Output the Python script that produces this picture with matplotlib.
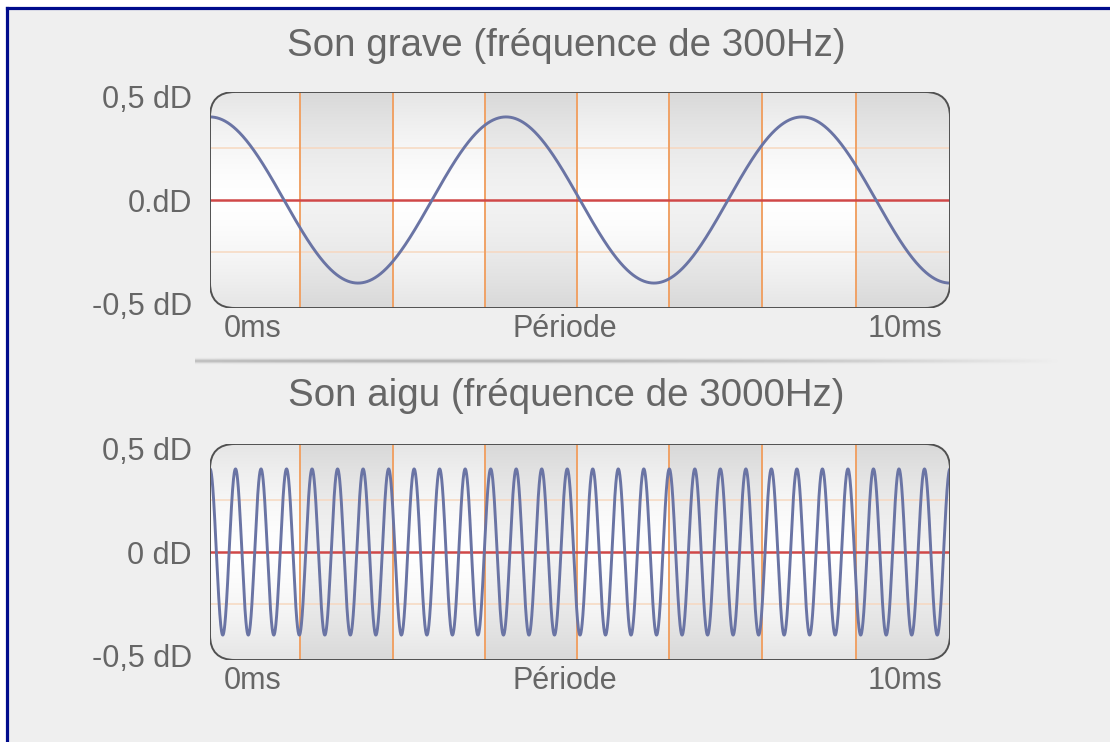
import numpy as np
import matplotlib.pyplot as plt
from matplotlib.patches import FancyBboxPatch, Rectangle
from matplotlib.lines import Line2D

# ---- chart data ----
x_range_ms = [0, 10]
y_range_dD = [-0.52, 0.52]
amplitude_dD = 0.4
cycles_grave = 2.5      # cycles visible in the 0-10 ms window (top)
cycles_aigu = 29        # cycles visible in the 0-10 ms window (bottom)
grid_x_ms = [1.22, 2.47, 3.72, 4.96, 6.2, 7.46, 8.73]
grid_y_dD = [-0.25, 0.25]
shaded_cols_ms = [(1.22, 2.47), (3.72, 4.96), (6.2, 7.46), (8.73, 10.0)]
ytick_vals = [-0.5, 0, 0.5]
ylabels_grave = ['-0,5 dD', '0.dD', '0,5 dD']
ylabels_aigu = ['-0,5 dD', '0 dD', '0,5 dD']
xtick_vals = [0.57, 4.8, 9.39]
xtick_labels = ['0ms', 'Période', '10ms']
title_grave = 'Son grave (fréquence de 300Hz)'
title_aigu = 'Son aigu (fréquence de 3000Hz)'

W, H = 1110, 742
TXT = '#666666'
plt.rcParams['font.family'] = ['Liberation Sans', 'DejaVu Sans']

fig = plt.figure(figsize=(W / 100, H / 100), dpi=100)
fig.patch.set_facecolor('white')

# page background + navy border (left and top)
fig.add_artist(Rectangle((6 / W, 0), 1, 1 - 8 / H, transform=fig.transFigure,
                         facecolor='#efefef', edgecolor='none', zorder=0))
fig.add_artist(Line2D([6.5 / W, 6.5 / W], [0, 1 - 7.5 / H], transform=fig.transFigure,
                      color='#000c8c', lw=2.3, zorder=1))
fig.add_artist(Line2D([6.5 / W, 1], [1 - 7.5 / H, 1 - 7.5 / H], transform=fig.transFigure,
                      color='#000c8c', lw=2.3, zorder=1))


def px_rect(left, top, right, bottom):
    return [left / W, 1 - bottom / H, (right - left) / W, (bottom - top) / H]


def draw_panel(rect_px, cycles, ylabels, title, title_y):
    ax = fig.add_axes(px_rect(*rect_px))
    ax.set_xlim(x_range_ms)
    ax.set_ylim(y_range_dD)
    ax.patch.set_visible(False)
    for s in ax.spines.values():
        s.set_visible(False)

    w_px = rect_px[2] - rect_px[0]
    h_px = rect_px[3] - rect_px[1]
    xspan = x_range_ms[1] - x_range_ms[0]
    yspan = y_range_dD[1] - y_range_dD[0]
    aspect = (yspan / h_px) / (xspan / w_px)
    box = FancyBboxPatch((x_range_ms[0], y_range_dD[0]), xspan, yspan,
                         boxstyle='round,pad=0,rounding_size=%f' % (25 * xspan / w_px),
                         mutation_aspect=aspect, facecolor='none',
                         edgecolor='#505050', lw=1.4, zorder=10)
    ax.add_patch(box)

    # shaded background columns with vertical gradient
    nx, ny = 740, 216
    xs = np.linspace(x_range_ms[0], x_range_ms[1], nx)
    ys = np.linspace(y_range_dD[0], y_range_dD[1], ny)
    v = np.abs(ys) / y_range_dD[1]
    base = np.ones(nx)
    for a, b in shaded_cols_ms:
        base[(xs >= a) & (xs < b)] = 0.95
    img = base[None, :] - 0.10 * (v[:, None] ** 1.5)
    img = np.clip(img, 0, 1)
    im = ax.imshow(np.dstack([img, img, img]), extent=[*x_range_ms, *y_range_dD],
                   origin='lower', aspect='auto', interpolation='bilinear', zorder=1)
    im.set_clip_path(box)

    for gy in grid_y_dD:
        ln = ax.axhline(gy, color='#f7d8c0', lw=1.1, zorder=2)
        ln.set_clip_path(box)
    for gx in grid_x_ms:
        ln = ax.axvline(gx, color='#f0a266', lw=1.4, zorder=3)
        ln.set_clip_path(box)
    ln = ax.axhline(0, color='#d04848', lw=1.8, zorder=4)
    ln.set_clip_path(box)

    t = np.linspace(x_range_ms[0], x_range_ms[1], 4000)
    wave = amplitude_dD * np.cos(2 * np.pi * cycles * t / xspan)
    ln, = ax.plot(t, wave, color='#6a74a4', lw=2.1, zorder=5)
    ln.set_clip_path(box)

    ax.set_yticks(ytick_vals)
    ax.set_yticklabels(ylabels)
    ax.set_xticks(xtick_vals)
    ax.set_xticklabels(xtick_labels)
    ax.tick_params(length=0, labelsize=22, labelcolor=TXT)
    ax.tick_params(axis='y', pad=13)
    ax.tick_params(axis='x', pad=4)

    fig.text(566 / W, 1 - title_y / H, title, ha='center', va='center',
             fontsize=27.7, color=TXT)
    return ax


draw_panel((210, 92, 950, 308), cycles_grave, ylabels_grave, title_grave, 46)
draw_panel((210, 444, 950, 660), cycles_aigu, ylabels_aigu, title_aigu, 396)

# soft separator between the two panels
sep = fig.add_axes(px_rect(195, 354, 1060, 368))
sep.axis('off')
sx = np.linspace(195, 1060, 865)
sy = np.linspace(354, 368, 28)
prof_x = np.clip(1 - ((sx - 450) / 610) ** 2, 0, 1)
prof_y = np.exp(-0.5 * ((sy - 361) / 1.4) ** 2)
alpha = prof_y[:, None] * prof_x[None, :] * 0.75
rgba = np.zeros((len(sy), len(sx), 4))
rgba[..., :3] = 0.62
rgba[..., 3] = alpha
sep.imshow(rgba, aspect='auto', extent=[0, 1, 0, 1], origin='upper')

fig.savefig('out.png', dpi=100, facecolor=fig.get_facecolor())
